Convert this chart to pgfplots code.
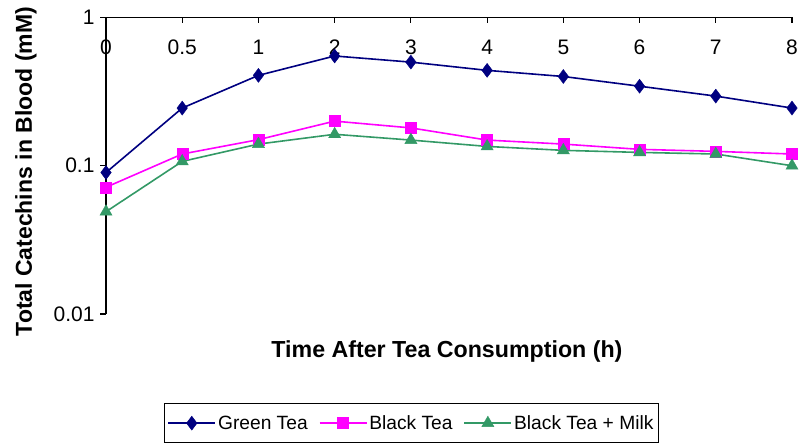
\documentclass[border=0pt]{standalone}
\usepackage{pgfplots}
\pgfplotsset{compat=1.18}
\usepackage{fontspec}
\setmainfont{Liberation Sans}
\definecolor{navyc}{HTML}{000080}
\definecolor{magc}{HTML}{FF00FF}
\definecolor{greenc}{HTML}{339966}
\begin{document}
\begin{tikzpicture}
\path[use as bounding box] (0,0) rectangle (799pt,443pt);
\begin{axis}[
  at={(106pt,129pt)}, anchor=south west,
  scale only axis, width=686pt, height=296.5pt,
  ymode=log, ymin=0.01, ymax=1,
  xmin=0, xmax=9,
  axis x line=top, axis y line=left,
  axis line style={-, line width=1.2pt, black},
  xtick={0,1,2,3,4,5,6,7,8,9},
  xticklabels={0,0.5,1,2,3,4,5,6,7,8},
  ytick={0.01,0.1,1}, yticklabels={0.01,0.1,1},
  yminorticks=false, xminorticks=false,
  tick align=inside,
  major tick length=6pt,
  tick style={black, line width=1.1pt},
  ytick style={xshift=-6pt},
  /pgf/number format/assume math mode=true,
  x tick label style={anchor=center, yshift=-29.5pt, font=\fontsize{21}{25}\selectfont},
  y tick label style={xshift=-8pt, font=\fontsize{21}{25}\selectfont},
  xlabel={Time After Tea Consumption (h)},
  xlabel style={at={(axis description cs:0.497,-0.128)}, anchor=center, font=\bfseries\fontsize{23.2}{27}\selectfont},
  ylabel={Total Catechins in Blood (mM)},
  ylabel style={at={(axis description cs:-0.1166,0.48)}, anchor=center, font=\bfseries\fontsize{23}{27}\selectfont},
  legend columns=-1,
  legend style={at={(axis description cs:0.0845,-0.300)}, anchor=north west, draw=black, line width=1pt,
    font=\fontsize{19.2}{23}\selectfont, inner ysep=10pt,
    /tikz/every even column/.append style={column sep=9pt}},
  legend image code/.code={\draw[mark repeat=2,mark phase=2] plot coordinates {(0pt,0pt)(23.5pt,0pt)(47pt,0pt)};},
]
\addplot[color=navyc, line width=1.6pt, mark=diamond*, mark size=7pt, mark options={solid, fill=navyc, line width=0.4pt}]
  coordinates {(0,0.09)(1,0.245)(2,0.407)(3,0.55)(4,0.50)(5,0.44)(6,0.40)(7,0.344)(8,0.295)(9,0.245)};
\addlegendentry{Green Tea}
\addplot[color=magc, line width=1.6pt, mark=square*, mark size=5.5pt, mark options={solid, fill=magc, line width=0.4pt}]
  coordinates {(0,0.0716)(1,0.12)(2,0.15)(3,0.20)(4,0.18)(5,0.149)(6,0.14)(7,0.129)(8,0.125)(9,0.12)};
\addlegendentry{Black Tea}
\addplot[color=greenc, line width=1.6pt, mark=triangle*, mark size=7pt, mark options={solid, fill=greenc, line width=0.4pt}]
  coordinates {(0,0.049)(1,0.107)(2,0.14)(3,0.163)(4,0.149)(5,0.135)(6,0.127)(7,0.123)(8,0.12)(9,0.10)};
\addlegendentry{Black Tea + Milk}
\end{axis}
\end{tikzpicture}
\end{document}
